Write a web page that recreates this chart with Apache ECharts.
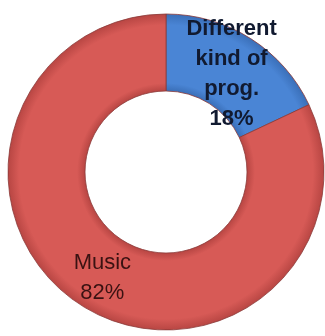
<!DOCTYPE html>
<html>
<head>
<meta charset="utf-8">
<script src="https://cdn.jsdelivr.net/npm/echarts@6/dist/echarts.min.js"></script>
<style>
  html, body { margin: 0; padding: 0; background: #ffffff; }
  #chart { width: 325px; height: 336px; }
</style>
</head>
<body>
<div id="chart"></div>
<script>
// Share of programme types
const categories = ['Different\nkind of\nprog.', 'Music'];
const shares = [18, 82];
const sliceColors = ['#4A85D5', '#D75A56'];
const darkColors = ['#3A6FB8', '#B84643'];
const labelColors = ['#111a30', '#3a1212'];
const labelWeights = ['bold', 'normal'];
const labelShift = [[0, 5], [2, 3]];

const cx = 166, cy = 172, rOuter = 158, rInner = 81;

// Ring shading: darker near the inner and outer rims for a bevelled look
function ringGradient(base, dark) {
  return {
    type: 'radial', x: cx, y: cy, r: rOuter, global: true,
    colorStops: [
      { offset: 0, color: dark },
      { offset: rInner / rOuter, color: dark },
      { offset: rInner / rOuter + 0.05, color: base },
      { offset: 0.93, color: base },
      { offset: 1, color: dark }
    ]
  };
}

const chart = echarts.init(document.getElementById('chart'), null, { renderer: 'canvas' });
chart.setOption({
  animation: false,
  series: [{
    type: 'pie',
    center: [cx, cy],
    radius: [rInner, rOuter],
    startAngle: 90,
    clockwise: true,
    avoidLabelOverlap: false,
    itemStyle: { borderColor: '#8a3a38', borderWidth: 0.8 },
    label: {
      show: true,
      position: 'inner',
      fontFamily: 'Liberation Sans, Arial, sans-serif',
      fontSize: 22,
      lineHeight: 30,
      align: 'center',
      formatter: p => p.name + '\n' + p.value + '%'
    },
    labelLine: { show: false },
    data: categories.map((name, i) => ({
      name: name,
      value: shares[i],
      itemStyle: { color: ringGradient(sliceColors[i], darkColors[i]) },
      label: { color: labelColors[i], fontWeight: labelWeights[i], offset: labelShift[i] }
    }))
  }]
});
</script>
</body>
</html>
